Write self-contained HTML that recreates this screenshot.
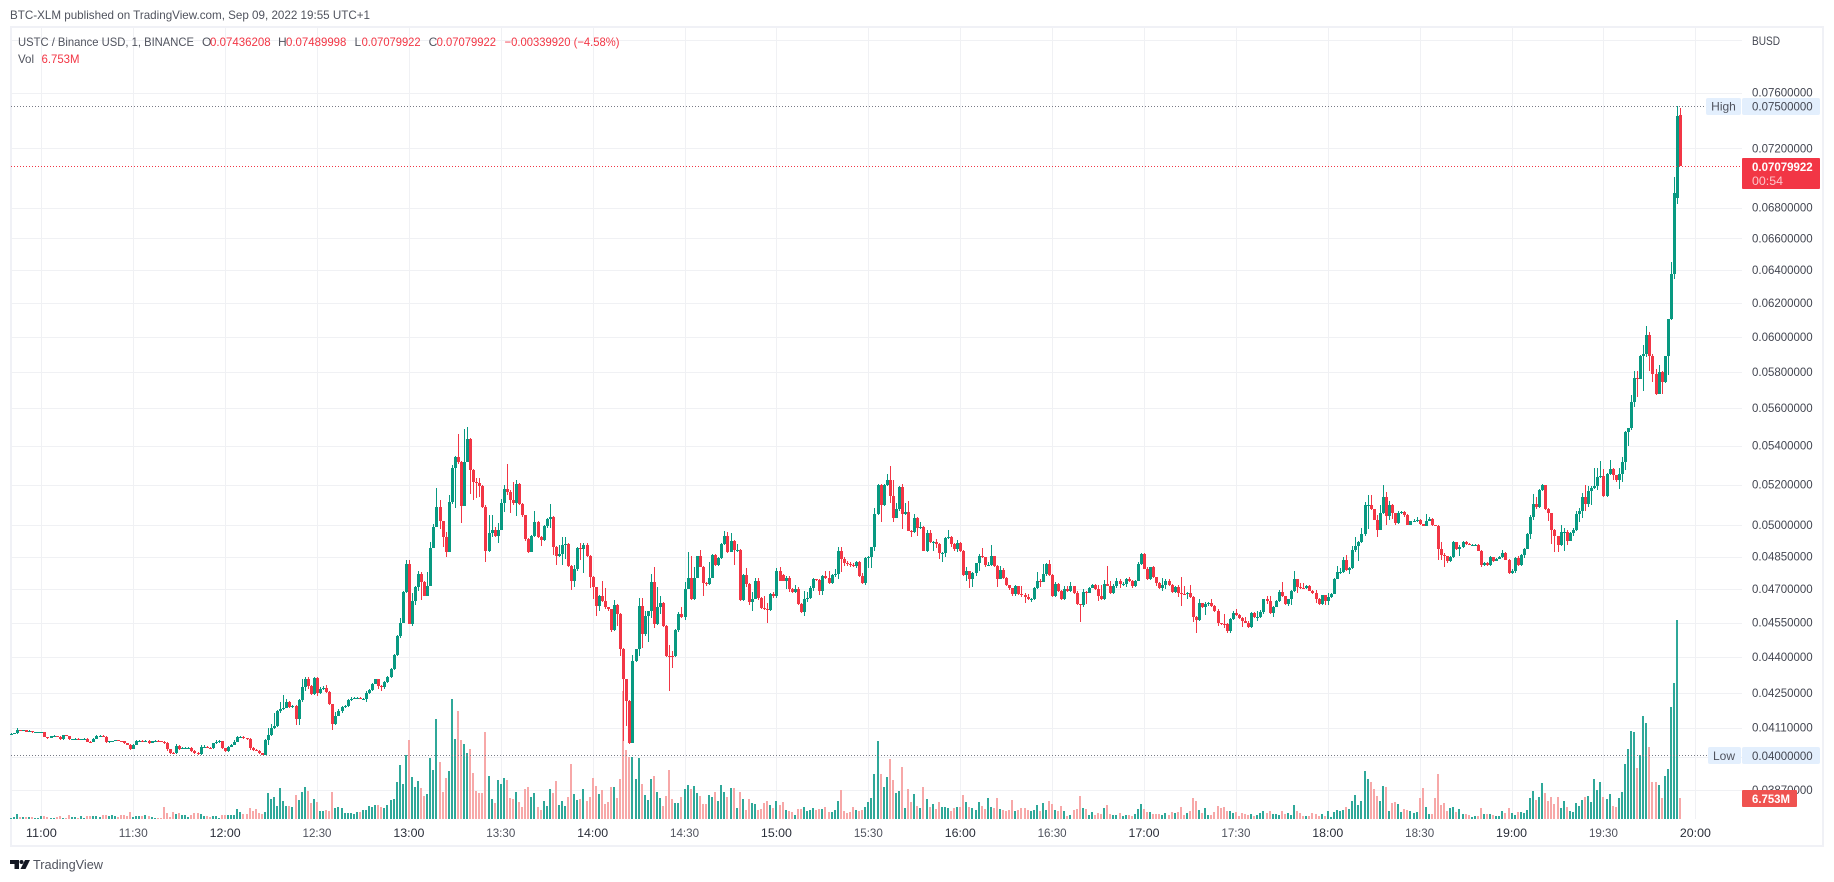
<!DOCTYPE html>
<html lang="en">
<head>
<meta charset="utf-8">
<title>USTC / Binance USD chart</title>
<style>
html,body{margin:0;padding:0;background:#fff;width:1834px;height:882px;overflow:hidden}
svg{position:absolute;left:0;top:0;display:block}
text{font-family:"Liberation Sans",sans-serif;font-size:12px}
</style>
</head>
<body>
<svg id="chart" width="1834" height="882" viewBox="0 0 1834 882" xmlns="http://www.w3.org/2000/svg">
  <text x="10" y="19" fill="#50535e" textLength="360" lengthAdjust="spacingAndGlyphs">BTC-XLM published on TradingView.com, Sep 09, 2022 19:55 UTC+1</text>
  <rect x="11" y="27" width="1812" height="819" fill="#fff" stroke="#f0f1f6" stroke-width="2"/>
  <g id="grid"></g>
  <g id="volume" shape-rendering="crispEdges"></g>
  <g id="candles" shape-rendering="crispEdges"></g>
  <g id="levels"></g>
  <g id="price-axis"></g>
  <g id="time-axis"></g>

  <g>
    <text x="18" y="46" fill="#50535e" textLength="176" lengthAdjust="spacingAndGlyphs">USTC / Binance USD, 1, BINANCE</text>
    <text x="202" y="46" fill="#50535e">O</text>
    <text x="210" y="46" fill="#f23645" textLength="60.7" lengthAdjust="spacingAndGlyphs">0.07436208</text>
    <text x="278" y="46" fill="#50535e">H</text>
    <text x="286" y="46" fill="#f23645" textLength="60.4" lengthAdjust="spacingAndGlyphs">0.07489998</text>
    <text x="354.5" y="46" fill="#50535e">L</text>
    <text x="361.6" y="46" fill="#f23645" textLength="59" lengthAdjust="spacingAndGlyphs">0.07079922</text>
    <text x="428.6" y="46" fill="#50535e">C</text>
    <text x="436.6" y="46" fill="#f23645" textLength="59.4" lengthAdjust="spacingAndGlyphs">0.07079922</text>
    <text x="504.5" y="46" fill="#f23645" textLength="115" lengthAdjust="spacingAndGlyphs">−0.00339920 (−4.58%)</text>
    <text x="18" y="63" fill="#50535e" textLength="16" lengthAdjust="spacingAndGlyphs">Vol</text>
    <text x="41.5" y="63" fill="#f23645" textLength="38" lengthAdjust="spacingAndGlyphs">6.753M</text>
  </g>

  <text x="1752" y="45" fill="#434651" textLength="28" lengthAdjust="spacingAndGlyphs">BUSD</text>

  <g>
    <rect x="1706" y="98" width="35" height="17" rx="2" fill="#e3effd"/>
    <rect x="1742" y="98" width="78" height="17" rx="2" fill="#e3effd"/>
    <text x="1723.5" y="110.5" fill="#50535e" text-anchor="middle">High</text>
    <text x="1752" y="110.5" fill="#434651" textLength="60.7" lengthAdjust="spacingAndGlyphs">0.07500000</text>
  </g>
  <g>
    <rect x="1742" y="158" width="78" height="31" rx="1" fill="#f23645"/>
    <text x="1752" y="171" fill="#fff" font-weight="bold" textLength="60.7" lengthAdjust="spacingAndGlyphs">0.07079922</text>
    <text x="1752" y="185" fill="#fbc4c9" textLength="31" lengthAdjust="spacingAndGlyphs">00:54</text>
  </g>
  <g>
    <rect x="1708" y="747" width="33" height="17" rx="2" fill="#e3effd"/>
    <rect x="1742" y="747" width="78" height="17" rx="2" fill="#e3effd"/>
    <text x="1724" y="760" fill="#50535e" text-anchor="middle">Low</text>
    <text x="1752" y="760" fill="#434651" textLength="60.7" lengthAdjust="spacingAndGlyphs">0.04000000</text>
  </g>
  <g>
    <rect x="1742" y="790" width="55" height="17" rx="1" fill="#ef5350"/>
    <text x="1752" y="803" fill="#fff" font-weight="bold" textLength="38" lengthAdjust="spacingAndGlyphs">6.753M</text>
  </g>

  <g>
    <path d="M10 860h9v9h-4.500v-5H10z" fill="#131722"/>
    <circle cx="21.500" cy="862" r="2" fill="#131722"/>
    <path d="M25 860h5l-4.500 9h-5z" fill="#131722"/>
    <text x="33" y="869" fill="#50535e" font-size="13" textLength="70" lengthAdjust="spacingAndGlyphs" style="font-size:13px">TradingView</text>
  </g>
</svg>

<script>
// Prices are in units of 0.00001 BUSD; one row per 10 one-minute bars, starting 10:50.
const opens = [
4084,4086,4087,4100,4097,4100,4094,4097,4092,4092,
4092,4092,4072,4069,4077,4077,4074,4064,4079,4077,
4064,4064,4066,4065,4065,4066,4055,4053,4066,4078,
4078,4074,4052,4058,4058,4060,4058,4056,4048,4042,
4025,4042,4057,4057,4055,4058,4051,4056,4057,4056,
4055,4048,4025,4012,4010,4038,4025,4030,4030,4030,
4020,4012,4005,4032,4035,4030,4029,4048,4053,4056,
4028,4017,4035,4042,4055,4072,4072,4068,4065,4030,
4023,4020,4009,4004,4061,4081,4108,4117,4175,4186,
4189,4215,4192,4196,4144,4220,4276,4309,4277,4245,
4312,4250,4266,4269,4255,4204,4125,4158,4177,4194,
4198,4222,4226,4228,4231,4226,4227,4249,4262,4289,
4307,4279,4275,4296,4317,4350,4410,4490,4550,4688,
4814,4545,4648,4710,4767,4733,4670,4714,4892,4992,
5087,5018,4942,4873,5111,5283,5341,5316,5092,5317,
5434,5275,5215,5210,5193,5089,4877,4964,4976,4947,
4976,5108,5177,5165,5123,5110,5203,5104,5047,4933,
4872,4948,5017,4945,4927,4997,5030,5042,4895,4853,
4864,4903,4911,4806,4739,4793,4889,4887,4903,4855,
4755,4708,4623,4670,4648,4618,4609,4516,4630,4588,
4434,4307,4217,4048,4382,4433,4623,4502,4578,4600,
4733,4544,4618,4635,4536,4407,4404,4403,4516,4589,
4574,4702,4752,4654,4752,4852,4802,4727,4724,4752,
4856,4810,4842,4911,4950,4872,4926,4880,4880,4650,
4765,4723,4640,4657,4738,4660,4613,4610,4607,4678,
4668,4781,4763,4739,4750,4700,4688,4702,4631,4596,
4653,4659,4706,4748,4742,4693,4761,4752,4727,4763,
4767,4875,4841,4820,4817,4811,4808,4823,4761,4727,
4845,4848,4893,5055,5200,5100,5200,5222,5143,5037,
5077,5188,5055,5063,4973,4966,5037,4987,4992,4877,
4964,4919,4919,4911,4867,4867,4939,4941,4909,4886,
4916,4877,4763,4783,4744,4775,4819,4855,4848,4809,
4812,4852,4806,4748,4786,4750,4717,4703,4676,4714,
4678,4671,4663,4654,4654,4706,4738,4733,4767,4814,
4766,4669,4725,4693,4657,4700,4691,4712,4682,4631,
4626,4688,4682,4706,4720,4700,4668,4654,4723,4716,
4681,4716,4739,4722,4725,4748,4736,4712,4739,4814,
4861,4794,4744,4800,4753,4727,4706,4720,4739,4720,
4688,4711,4682,4678,4676,4682,4666,4574,4560,4635,
4619,4631,4635,4624,4600,4547,4544,4543,4513,4565,
4591,4585,4571,4556,4550,4531,4591,4575,4575,4596,
4653,4645,4591,4618,4645,4687,4668,4631,4653,4693,
4744,4709,4706,4705,4716,4693,4680,4657,4632,4671,
4645,4662,4676,4748,4777,4777,4833,4789,4797,4880,
4898,4919,4955,5097,5097,5077,5027,4978,5057,5138,
5045,5100,5058,5010,5058,5062,5047,5003,5018,5020,
5023,5005,4998,5022,5032,5000,4998,4884,4859,4852,
4830,4848,4917,4884,4894,4920,4911,4905,4905,4906,
4877,4809,4820,4811,4847,4830,4841,4850,4866,4836,
4773,4784,4844,4811,4856,4886,4958,5042,5102,5088,
5172,5197,5078,5058,4975,4947,4905,4969,4969,4923,
4961,4975,5055,5068,5137,5105,5168,5182,5192,5239,
5243,5143,5256,5279,5248,5222,5253,5313,5472,5492,
5634,5768,5761,5890,5903,6008,5890,5789,5676,5798,
5745,5888,6103,6376,6860,7436.208
];
const highs = [
4088,4088,4110,4102,4102,4101,4099,4097,4094,4094,
4094,4093,4074,4078,4079,4078,4075,4081,4080,4078,
4066,4067,4067,4066,4068,4067,4057,4068,4080,4080,
4080,4075,4059,4059,4062,4061,4059,4058,4050,4044,
4044,4062,4060,4062,4062,4060,4058,4060,4060,4058,
4058,4052,4027,4014,4046,4042,4034,4033,4032,4032,
4022,4014,4040,4042,4037,4032,4050,4060,4060,4058,
4030,4037,4044,4060,4075,4078,4076,4070,4067,4032,
4026,4022,4012,4064,4110,4125,4168,4180,4215,4240,
4225,4217,4200,4200,4226,4308,4315,4318,4282,4315,
4316,4275,4278,4285,4258,4207,4172,4185,4198,4202,
4226,4232,4232,4234,4233,4230,4258,4268,4292,4310,
4310,4283,4300,4322,4354,4415,4495,4572,4692,4832,
4835,4680,4715,4782,4776,4736,4777,4917,5005,5185,
5122,5022,4966,5148,5300,5345,5460,5322,5490,5500,
5440,5278,5235,5232,5196,5097,5050,5050,4990,5012,
5130,5197,5303,5172,5215,5223,5210,5110,5050,4937,
4952,5068,5020,4950,5000,5034,5103,5046,4900,4905,
4943,4943,4915,4810,4810,4893,4912,4915,4915,4858,
4758,4710,4672,4735,4705,4620,4612,4650,4632,4592,
4440,4310,4222,4410,4436,4658,4658,4600,4602,4770,
4802,4708,4668,4640,4540,4452,4428,4520,4598,4618,
4730,4871,4852,4802,4855,4880,4806,4732,4826,4860,
4862,4848,4915,4972,4968,4962,4930,4910,4884,4770,
4795,4727,4685,4750,4750,4665,4668,4635,4682,4685,
4795,4800,4768,4760,4758,4704,4718,4708,4635,4690,
4685,4715,4752,4748,4745,4765,4785,4785,4770,4790,
4895,4893,4850,4830,4825,4818,4830,4828,4772,4850,
4852,4896,5082,5205,5205,5203,5252,5297,5222,5110,
5195,5202,5108,5118,4975,5055,5040,5013,4995,4975,
4978,4925,4935,4915,4870,4945,4978,4948,4915,4930,
4920,4880,4800,4785,4780,4822,4860,4890,4850,4825,
4903,4855,4810,4808,4798,4755,4720,4706,4718,4716,
4716,4680,4676,4660,4710,4778,4745,4817,4820,4836,
4770,4730,4727,4697,4712,4712,4730,4716,4690,4634,
4700,4690,4710,4725,4723,4720,4718,4740,4805,4736,
4722,4750,4748,4732,4752,4754,4740,4742,4825,4868,
4868,4800,4803,4804,4755,4730,4752,4748,4748,4725,
4715,4720,4757,4712,4685,4718,4670,4580,4653,4637,
4640,4643,4653,4628,4610,4548,4586,4547,4570,4600,
4608,4590,4575,4575,4555,4596,4598,4603,4605,4656,
4669,4668,4622,4650,4695,4730,4670,4656,4696,4783,
4748,4728,4726,4720,4720,4695,4695,4660,4675,4675,
4682,4680,4752,4805,4795,4850,4856,4800,4900,4941,
4922,4985,5113,5150,5150,5030,5047,5098,5200,5162,
5117,5103,5060,5070,5070,5070,5052,5022,5028,5042,
5028,5006,5052,5042,5035,5002,5000,4917,4865,4855,
4854,4925,4920,4906,4925,4922,4912,4910,4910,4908,
4880,4823,4825,4852,4850,4845,4853,4880,4870,4838,
4790,4850,4852,4862,4890,4962,5050,5155,5137,5178,
5205,5200,5085,5060,4980,4950,5000,4985,4978,4965,
4985,5068,5085,5158,5200,5192,5192,5285,5285,5320,
5280,5260,5325,5283,5226,5283,5340,5475,5495,5672,
5802,5802,5893,5955,6065,6030,5903,5815,5836,5805,
5890,6105,6450,7003,7500,7489.998
];
const lows = [
4083,4085,4086,4095,4096,4092,4093,4090,4090,4091,
4090,4071,4066,4068,4076,4073,4063,4063,4076,4063,
4063,4063,4064,4064,4064,4054,4048,4052,4065,4077,
4073,4051,4051,4057,4057,4057,4055,4046,4040,4021,
4024,4040,4055,4053,4054,4046,4050,4054,4054,4053,
4046,4020,4008,4007,4008,4022,4024,4028,4028,4016,
4008,4002,4003,4030,4028,4027,4027,4046,4051,4026,
4014,4016,4033,4040,4053,4070,4066,4060,4022,4017,
4018,4006,4001,4002,4040,4078,4105,4112,4170,4180,
4187,4190,4188,4122,4122,4215,4258,4268,4240,4240,
4236,4245,4262,4252,4200,4102,4122,4155,4170,4188,
4192,4219,4224,4226,4224,4224,4215,4245,4258,4286,
4268,4260,4268,4290,4312,4346,4406,4484,4546,4680,
4545,4533,4628,4693,4650,4668,4668,4712,4889,4989,
4980,4897,4848,4873,5105,5085,5305,5012,5092,5315,
5155,5125,5135,5140,5085,4823,4872,4945,4944,4912,
4976,5063,5148,5060,5100,5045,5097,5040,4922,4866,
4870,4945,4940,4902,4925,4985,4985,4856,4810,4850,
4810,4840,4802,4695,4708,4785,4835,4775,4850,4703,
4655,4580,4600,4642,4612,4600,4510,4514,4535,4403,
4059,4116,4046,4052,4380,4404,4440,4490,4467,4572,
4525,4540,4590,4530,4402,4257,4355,4400,4508,4568,
4560,4700,4650,4652,4750,4800,4668,4712,4720,4750,
4805,4808,4838,4905,4865,4870,4812,4872,4648,4645,
4710,4630,4600,4655,4650,4608,4604,4548,4600,4660,
4660,4735,4735,4700,4685,4680,4680,4628,4593,4581,
4640,4655,4690,4738,4671,4674,4745,4725,4722,4755,
4745,4780,4805,4805,4800,4800,4795,4757,4725,4720,
4798,4798,4875,5050,5013,5095,5195,5110,5013,5035,
5070,4981,5050,4970,4942,4964,4950,4982,4875,4870,
4915,4877,4890,4838,4825,4848,4935,4895,4875,4873,
4872,4758,4739,4703,4711,4760,4783,4842,4802,4805,
4808,4800,4708,4745,4746,4714,4697,4670,4670,4675,
4665,4637,4650,4640,4652,4700,4711,4730,4760,4762,
4662,4666,4688,4652,4650,4685,4688,4678,4628,4551,
4621,4632,4680,4704,4698,4645,4650,4652,4712,4678,
4678,4704,4705,4716,4708,4730,4706,4708,4735,4810,
4790,4741,4740,4750,4712,4700,4690,4702,4712,4680,
4684,4663,4624,4672,4656,4660,4553,4505,4558,4615,
4582,4625,4620,4597,4535,4540,4527,4505,4505,4560,
4580,4566,4531,4546,4528,4528,4570,4558,4570,4590,
4632,4587,4575,4640,4640,4662,4626,4625,4630,4688,
4681,4700,4700,4700,4690,4676,4637,4628,4628,4630,
4628,4660,4738,4773,4770,4775,4785,4770,4790,4870,
4830,4915,4950,4981,5073,5025,4944,4975,5055,5002,
5027,5028,5002,5005,5055,5040,5000,5003,5015,5015,
5000,4995,4996,5018,4997,4995,4836,4836,4800,4820,
4825,4845,4880,4852,4890,4905,4903,4903,4903,4875,
4802,4806,4808,4806,4826,4828,4838,4845,4832,4770,
4770,4775,4808,4805,4845,4950,4932,5025,5077,5085,
5168,5072,5022,4911,4872,4872,4900,4877,4905,4955,
4950,4970,5015,5033,5068,5088,5100,5180,5172,5235,
5138,5138,5250,5222,5215,5176,5215,5273,5400,5480,
5604,5658,5760,5695,5885,5802,5745,5670,5675,5675,
5740,5780,6100,6343,6822,7079.922
];
const closes = [
4086,4087,4100,4097,4100,4094,4097,4092,4092,4092,
4092,4072,4069,4077,4077,4074,4064,4079,4077,4064,
4064,4066,4065,4065,4066,4055,4053,4066,4078,4078,
4074,4052,4058,4058,4060,4058,4056,4048,4042,4025,
4042,4057,4057,4055,4058,4051,4056,4057,4056,4055,
4048,4025,4012,4010,4038,4025,4030,4030,4030,4020,
4012,4005,4032,4035,4030,4029,4048,4053,4056,4028,
4017,4035,4042,4055,4072,4072,4068,4065,4030,4023,
4020,4009,4004,4061,4081,4108,4117,4175,4186,4189,
4215,4192,4196,4144,4220,4276,4309,4277,4245,4312,
4250,4266,4269,4255,4204,4125,4158,4177,4194,4198,
4222,4226,4228,4231,4226,4227,4249,4262,4289,4307,
4279,4275,4296,4317,4350,4410,4490,4550,4688,4814,
4545,4648,4710,4767,4733,4670,4714,4892,4992,5087,
5018,4942,4873,5111,5283,5341,5316,5092,5317,5434,
5275,5215,5210,5193,5089,4877,4964,4976,4947,4976,
5108,5177,5165,5123,5110,5203,5104,5047,4933,4872,
4948,5017,4945,4927,4997,5030,5042,4895,4853,4864,
4903,4911,4806,4739,4793,4889,4887,4903,4855,4755,
4708,4623,4670,4648,4618,4609,4516,4630,4588,4434,
4307,4217,4048,4382,4433,4623,4502,4578,4600,4733,
4544,4618,4635,4536,4407,4404,4403,4516,4589,4574,
4702,4752,4654,4752,4852,4802,4727,4724,4752,4856,
4810,4842,4911,4950,4872,4926,4880,4880,4650,4765,
4723,4640,4657,4738,4660,4613,4610,4607,4678,4668,
4781,4739,4739,4750,4700,4688,4702,4631,4596,4653,
4659,4706,4748,4742,4693,4761,4752,4727,4763,4767,
4875,4841,4820,4817,4811,4808,4823,4761,4727,4845,
4848,4893,5055,5200,5100,5200,5222,5143,5037,5077,
5188,5055,5063,4973,4966,5037,4987,4992,4877,4964,
4919,4919,4911,4867,4867,4939,4941,4909,4886,4916,
4877,4763,4783,4744,4775,4819,4855,4848,4809,4812,
4852,4806,4748,4786,4750,4717,4703,4676,4714,4678,
4671,4663,4654,4654,4706,4738,4733,4767,4814,4766,
4669,4725,4693,4657,4700,4691,4712,4682,4631,4626,
4688,4682,4706,4720,4700,4668,4654,4723,4716,4681,
4716,4739,4722,4725,4748,4736,4712,4739,4814,4861,
4794,4744,4800,4753,4727,4706,4720,4739,4720,4688,
4711,4682,4678,4676,4682,4666,4574,4560,4635,4619,
4631,4635,4624,4600,4547,4544,4543,4513,4565,4591,
4585,4571,4556,4550,4531,4591,4575,4575,4596,4653,
4645,4591,4618,4645,4687,4668,4631,4653,4693,4744,
4709,4706,4705,4716,4693,4680,4657,4632,4671,4645,
4662,4676,4748,4777,4777,4833,4789,4797,4880,4898,
4919,4955,5097,5097,5077,5027,4978,5057,5138,5045,
5100,5058,5010,5058,5062,5047,5003,5018,5020,5023,
5005,4998,5022,5032,5000,4998,4884,4859,4852,4830,
4848,4917,4884,4894,4920,4911,4905,4905,4906,4877,
4809,4820,4811,4847,4830,4841,4850,4866,4836,4773,
4784,4844,4811,4856,4886,4958,5042,5102,5088,5172,
5197,5078,5058,4975,4947,4905,4969,4969,4923,4961,
4975,5055,5068,5137,5105,5168,5182,5192,5239,5243,
5143,5256,5279,5248,5222,5253,5313,5472,5492,5634,
5768,5761,5890,5903,6008,5890,5789,5676,5798,5745,
5888,6103,6376,6895,7427,7079.922
];
// Volume per bar, in units of 0.1072M.
const volumes = [
4,6,15,6,6,6,5,5,3,3,
8,8,5,2,3,6,8,3,2,11,
6,5,3,8,2,8,8,8,8,6,
13,11,8,11,8,6,11,11,10,20,
6,8,10,10,12,10,6,3,3,3,
35,17,5,20,15,17,11,11,6,12,
17,17,15,9,8,6,8,8,3,11,
11,11,11,12,29,20,14,14,32,24,
29,18,15,21,78,59,66,38,92,53,
38,38,35,71,56,80,95,83,47,59,
50,23,23,26,24,80,32,35,32,17,
17,17,14,20,20,26,26,38,35,41,
41,35,32,41,56,59,110,161,105,192,
237,126,96,114,93,69,75,183,147,300,
171,81,123,144,360,240,324,237,225,198,
210,138,84,78,78,261,129,60,48,117,
105,123,117,63,60,81,51,36,90,96,
66,78,36,27,54,39,90,78,114,42,
54,39,66,165,75,57,60,90,54,66,
123,99,75,87,45,51,96,96,63,120,
384,207,186,186,120,183,105,72,57,120,
129,81,63,39,69,147,60,48,48,66,
90,102,90,99,78,69,45,45,72,66,
81,54,102,81,66,93,93,33,81,60,
27,60,48,45,27,30,48,54,42,33,
54,42,51,27,24,21,12,30,30,36,
24,27,33,27,30,30,36,21,21,27,
54,87,24,18,21,36,27,24,27,36,
51,63,135,234,135,96,126,180,117,78,
84,156,33,90,51,75,39,33,96,60,
36,45,30,51,36,36,33,24,33,36,
36,72,51,36,33,27,51,39,30,63,
36,33,63,30,27,24,27,57,24,27,
33,33,27,24,27,42,24,48,27,54,
45,27,24,39,24,9,12,27,30,69,
33,30,12,21,12,18,15,33,42,15,
12,12,18,9,12,12,9,15,30,45,
30,21,21,15,15,15,12,18,12,21,
18,21,36,12,18,24,63,54,27,18,
33,12,12,21,39,33,36,24,24,18,
21,9,18,15,12,15,9,12,18,24,
18,24,15,15,12,24,15,18,12,42,
24,18,9,9,9,18,15,9,15,9,
24,6,21,27,24,27,36,30,54,72,
42,54,144,120,111,90,69,54,99,96,
24,48,51,45,21,30,27,24,18,21,
63,93,36,15,15,63,135,42,48,24,
33,36,21,30,15,15,12,6,9,9,
33,15,15,15,12,9,9,24,18,33,
18,12,21,21,18,27,63,84,57,66,
108,78,54,66,45,66,33,54,36,24,
21,48,39,57,66,69,51,120,87,111,
66,60,75,39,36,63,81,165,210,264,
261,153,192,309,288,216,111,111,102,63,
129,150,336,408,597,63
];
const timeLabels = ['11:00','11:30','12:00','12:30','13:00','13:30','14:00','14:30','15:00','15:30','16:00','16:30','17:00','17:30','18:00','18:30','19:00','19:30','20:00'];
const priceTicks = ['0.08000000','0.07600000','0.07200000','0.06800000','0.06600000','0.06400000','0.06200000','0.06000000','0.05800000','0.05600000','0.05400000','0.05200000','0.05000000','0.04850000','0.04700000','0.04550000','0.04400000','0.04250000','0.04110000','0.03993000','0.03870000'];
const hiddenPriceLabels = ['0.08000000','0.03993000'];
const highLevel = 7500;
const lowLevel = 4002;
const lastLevel = 7079.922;

const SVG_NS = 'http://www.w3.org/2000/svg';
const plotLeft = 11, plotRight = 1742, plotTop = 28, plotBottom = 819;
const firstBarMinutes = 10 * 60 + 50;
const gridColor = '#f0f1f4';
function xBar(i) { return 10.7 + 3.063 * i; }
function yPrice(p) { return 106.3 + 1033 * Math.log(7500 / p); }
function hVolume(v) { return v * 0.1072 * 3.11; }
function xTime(label) {
  const parts = label.split(':');
  return xBar(Number(parts[0]) * 60 + Number(parts[1]) - firstBarMinutes);
}
function make(tag, attrs, parent) {
  const el = document.createElementNS(SVG_NS, tag);
  for (const k in attrs) el.setAttribute(k, attrs[k]);
  parent.appendChild(el);
  return el;
}

const gridG = document.getElementById('grid');
const volG = document.getElementById('volume');
const candleG = document.getElementById('candles');
const levelG = document.getElementById('levels');
const priceG = document.getElementById('price-axis');
const timeG = document.getElementById('time-axis');

priceTicks.forEach(function (tick) {
  const y = yPrice(Number(tick) * 1e5);
  const py = Math.round(y) + 0.5;
  const line = make('line', { x1: plotLeft, x2: plotRight, y1: py, y2: py, stroke: gridColor, 'stroke-width': 1 }, gridG);
  
  
  if (hiddenPriceLabels.indexOf(tick) === -1) {
    const t = make('text', { x: 1752, y: y + 4, fill: '#434651', textLength: 60.7, lengthAdjust: 'spacingAndGlyphs' }, priceG);
    t.textContent = tick;
    
    
  }
});

timeLabels.forEach(function (label) {
  const x = xTime(label);
  const px = Math.round(x) + 0.5;
  const line = make('line', { x1: px, x2: px, y1: plotTop, y2: plotBottom, stroke: gridColor, 'stroke-width': 1 }, gridG);
  
  
  const isHour = label.slice(-2) === '00';
  const t = make('text', { x: x, y: 837, 'text-anchor': 'middle', fill: isHour ? '#2a2e39' : '#50535e', textLength: isHour ? 31 : 29, lengthAdjust: 'spacingAndGlyphs' }, timeG);
  t.textContent = label;
  
  
});

closes.forEach(function (close, i) {
  const up = close >= opens[i];
  const xc = Math.round(xBar(i));
  if (xc < plotLeft) return;
  const color = up ? '#089981' : '#f23645';
  const h = Math.max(1, Math.round(hVolume(volumes[i])));
  const bar = make('rect', { x: xc - 1, y: plotBottom - h, width: 2, height: h, fill: up ? '#2fa899' : '#f7a8a8' }, volG);
  
  

  const yH = Math.round(yPrice(highs[i]));
  const yL = Math.round(yPrice(lows[i]));
  const wick = make('rect', { x: xc, y: yH, width: 1, height: Math.max(1, yL - yH), fill: color }, candleG);
  
  

  const yO = Math.round(yPrice(opens[i]));
  const yC = Math.round(yPrice(close));
  const body = make('rect', { x: xc - 1, y: Math.min(yO, yC), width: 3, height: Math.max(1, Math.abs(yO - yC)), fill: color }, candleG);
  
  
});

const highLine = make('line', { x1: plotLeft, x2: 1706, y1: Math.round(yPrice(highLevel)) + 0.5, y2: Math.round(yPrice(highLevel)) + 0.5, stroke: '#787b86', 'stroke-width': 1, 'stroke-dasharray': '1 2' }, levelG);


const lowLine = make('line', { x1: plotLeft, x2: 1708, y1: Math.round(yPrice(lowLevel)) + 0.5, y2: Math.round(yPrice(lowLevel)) + 0.5, stroke: '#787b86', 'stroke-width': 1, 'stroke-dasharray': '1 2' }, levelG);


const lastLine = make('line', { x1: plotLeft, x2: plotRight, y1: Math.round(yPrice(lastLevel)) + 0.5, y2: Math.round(yPrice(lastLevel)) + 0.5, stroke: '#f23645', 'stroke-width': 1, 'stroke-dasharray': '1 2' }, levelG);


</script>
</body>
</html>
